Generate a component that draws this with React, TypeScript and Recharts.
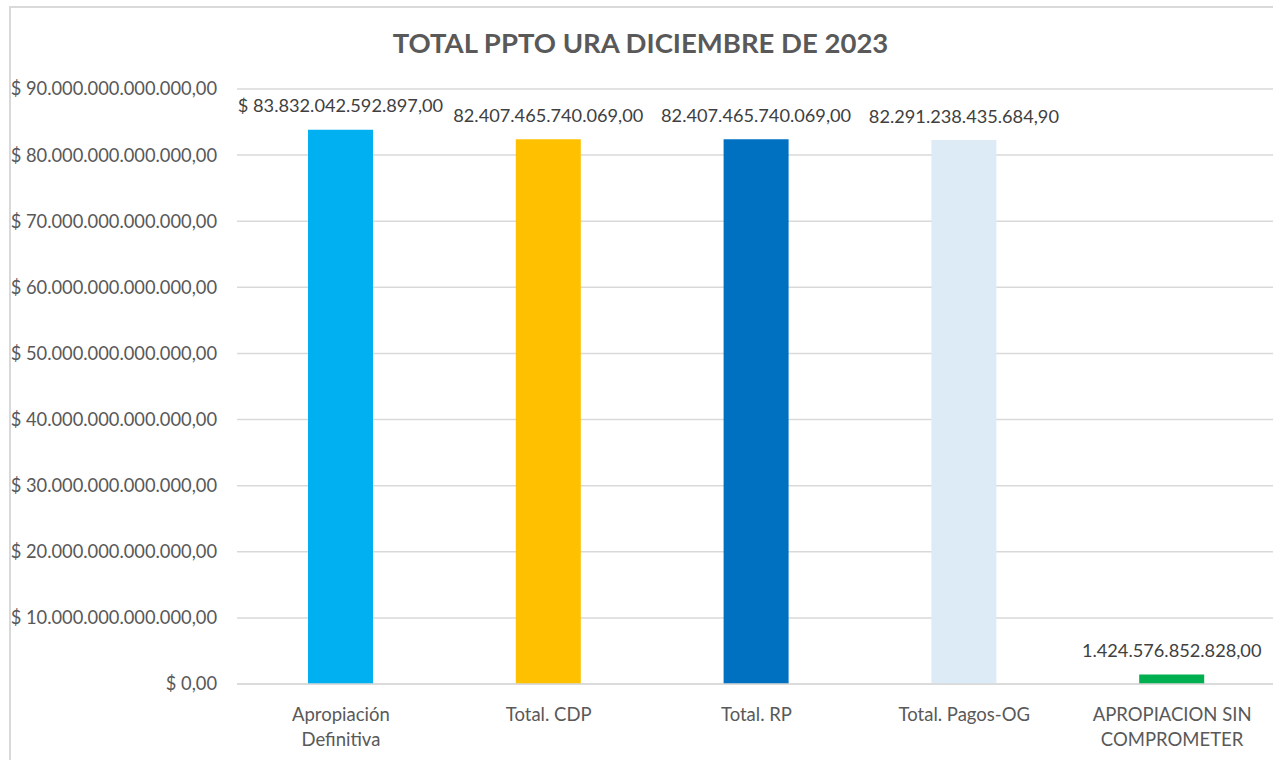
import React from "react";
import { BarChart, Bar, XAxis, YAxis, CartesianGrid, Cell, LabelList } from "recharts";

const categories = ["Apropiación\nDefinitiva", "Total. CDP", "Total. RP", "Total. Pagos-OG", "APROPIACION SIN\nCOMPROMETER"];
const values = [83832042592897, 82407465740069, 82407465740069, 82291238435684.9, 1424576852828];
const labelTexts = ["$ 83.832.042.592.897,00", "82.407.465.740.069,00", "82.407.465.740.069,00", "82.291.238.435.684,90", "1.424.576.852.828,00"];
const colors = ["#00B0F0", "#FFC000", "#0070C0", "#DDEBF7", "#00B050"];
const yTicks = [0, 10e12, 20e12, 30e12, 40e12, 50e12, 60e12, 70e12, 80e12, 90e12];

const data = categories.map((c, i) => ({ name: c, value: values[i], label: labelTexts[i] }));

const FONT = "Lato, 'Open Sans', sans-serif";

function fmtMoney(v: number): string {
  const fixed = v.toFixed(2);
  const [intPart, dec] = fixed.split(".");
  const withDots = intPart.replace(/\B(?=(\d{3})+(?!\d))/g, ".");
  return "$ " + withDots + "," + dec;
}

const XTick = (props: any) => {
  const { x, y, payload } = props;
  const lines = String(payload.value).split("\n");
  return (
    <g>
      {lines.map((l: string, i: number) => (
        <text key={i} x={x} y={y + 24 + i * 25} textAnchor="middle" dominantBaseline="middle" fill="#595959" fontSize={18.5} fontFamily={FONT}>
          {l}
        </text>
      ))}
    </g>
  );
};

const TopLabel = (props: any) => {
  const { x, y, width, index } = props;
  return (
    <text x={x + width / 2} y={y - 22} textAnchor="middle" dominantBaseline="middle" fill="#404040" fontSize={18.2} fontFamily={FONT}>
      {labelTexts[index]}
    </text>
  );
};

export default function App() {
  return (
    <div style={{ position: "absolute", left: 0, top: 0, width: 1273, height: 760, overflow: "hidden", background: "#fff" }}>
      <div style={{ position: "absolute", left: 9, top: 6, width: 1400, height: 900, border: "2px solid #d9d9d9", boxSizing: "border-box" }} />
      <div style={{ position: "absolute", left: 0, top: 26, width: 1281, textAlign: "center", fontFamily: FONT, fontWeight: 700, fontSize: 27.5, color: "#595959", lineHeight: "34px" }}>
        TOTAL PPTO URA DICIEMBRE DE 2023
      </div>
      <div style={{ position: "absolute", left: 0, top: 0 }}>
        <BarChart width={1276} height={760} data={data} margin={{ top: 89, right: 0, bottom: 0, left: 0 }}>
          <CartesianGrid vertical={false} stroke="#d9d9d9" strokeWidth={1.5} />
          <XAxis dataKey="name" axisLine={{ stroke: "#d9d9d9", strokeWidth: 1.5 }} tickLine={false} tick={<XTick />} interval={0} height={76} />
          <YAxis
            domain={[0, 90e12]}
            ticks={yTicks}
            width={237}
            axisLine={false}
            tickLine={false}
            tickSize={0}
            tickMargin={20}
            tickFormatter={fmtMoney}
            tick={{ fill: "#595959", fontSize: 18.3, fontFamily: FONT }}
            allowDataOverflow
          />
          <Bar dataKey="value" barSize={65} isAnimationActive={false}>
            {data.map((d, i) => (
              <Cell key={i} fill={colors[i]} />
            ))}
            <LabelList dataKey="label" content={<TopLabel />} />
          </Bar>
        </BarChart>
      </div>
    </div>
  );
}
